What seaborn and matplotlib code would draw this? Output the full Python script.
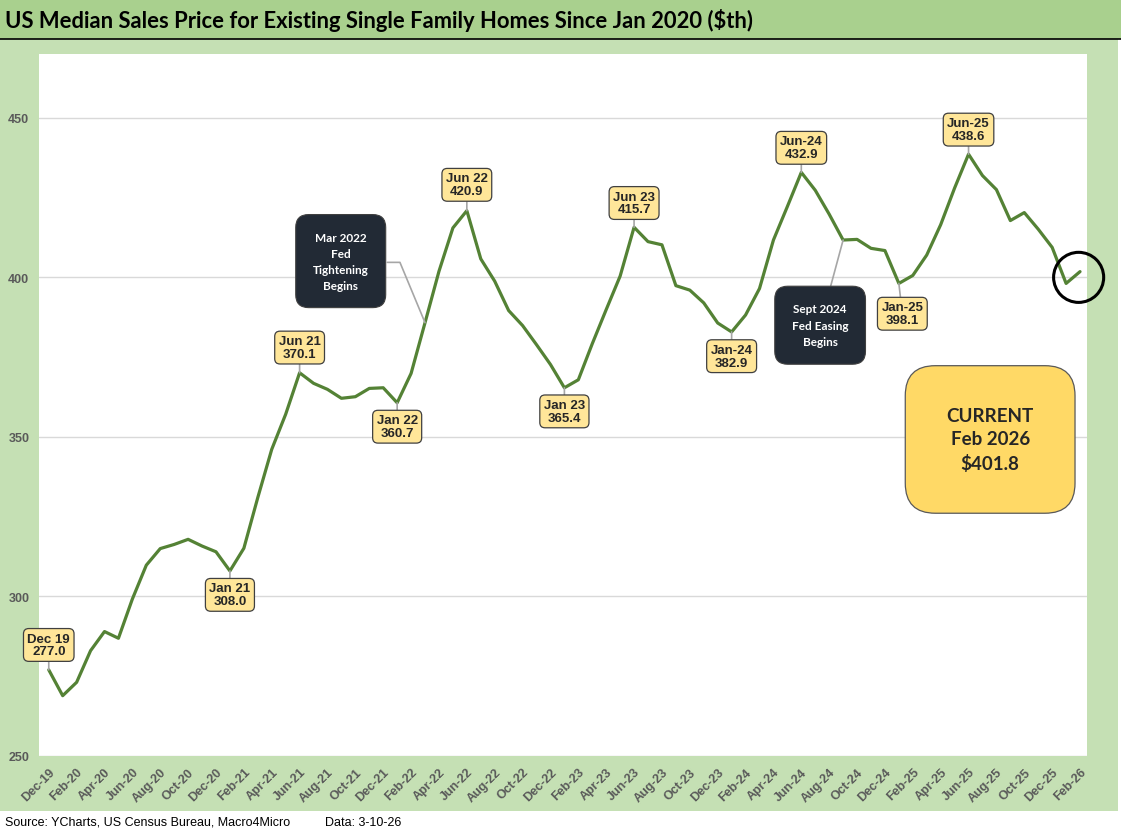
import pandas as pd
import seaborn as sns
import matplotlib.pyplot as plt
from matplotlib.patches import Rectangle

# monthly median price, $ thousands, Dec-19 .. Feb-26
prices = [277.0, 268.9, 273.1, 283.0, 289.0, 286.9, 299.2, 309.8, 315.0, 316.3, 317.9, 315.8, 314.0,
          308.0, 315.1, 331.0, 346.1, 357.1, 370.1, 366.8, 364.9, 362.1, 362.6, 365.2, 365.4,
          360.7, 369.9, 385.8, 401.9, 415.5, 420.9, 405.8, 398.8, 389.6, 384.9, 378.9, 372.7,
          365.4, 367.9, 379.2, 389.9, 400.4, 415.7, 411.2, 410.2, 397.4, 396.0, 392.0, 385.7,
          382.9, 388.2, 396.5, 411.7, 422.2, 432.9, 427.3, 419.8, 411.7, 411.9, 409.1, 408.4,
          398.1, 400.6, 407.0, 416.5, 428.0, 438.6, 431.9, 427.5, 417.8, 420.3, 415.1, 409.4,
          398.1, 401.8]
months = pd.date_range("2019-12-01", periods=len(prices), freq="MS").strftime("%b-%y").tolist()
idx = list(range(len(prices)))

yticks = [250, 300, 350, 400, 450]

# labelled points: (index, text, label y)
callouts = [(0, "Dec 19\n277.0", 284.8), (13, "Jan 21\n308.0", 300.5), (18, "Jun 21\n370.1", 378.0),
            (25, "Jan 22\n360.7", 353.2), (30, "Jun 22\n420.9", 429.0), (37, "Jan 23\n365.4", 358.0),
            (42, "Jun 23\n415.7", 423.3), (49, "Jan-24\n382.9", 375.3), (54, "Jun-24\n432.9", 440.6),
            (61, "Jan-25\n398.1", 388.6), (66, "Jun-25\n438.6", 446.3)]

W, H = 1121, 837
sns.set_style("white")
plt.rcParams['font.family'] = ['Liberation Sans', 'DejaVu Sans']

fig = plt.figure(figsize=(W / 100, H / 100), dpi=100)
fig.patch.set_facecolor("white")

# background bands
fig.patches.append(Rectangle((0, 1 - 40 / H), 1, 40 / H, transform=fig.transFigure,
                             facecolor="#A9D08E", edgecolor="none", zorder=-2))
fig.patches.append(Rectangle((0, 1 - 812 / H), 1118 / W, (812 - 40) / H, transform=fig.transFigure,
                             facecolor="#C5E0B4", edgecolor="none", zorder=-2))
fig.add_artist(plt.Line2D([0, 1], [1 - 39.5 / H, 1 - 39.5 / H], transform=fig.transFigure,
                          color="black", lw=1.2))

fig.text(5 / W, 1 - 21 / H, "US Median Sales Price for Existing Single Family Homes Since Jan 2020 ($th)",
         fontsize=15.8, fontweight="bold", family="Lato", va="center", ha="left", color="black")

ax = fig.add_axes([39 / W, 1 - 757 / H, (1087 - 39) / W, (757 - 55) / H])
ax.set_facecolor("white")

sns.lineplot(x=idx, y=prices, ax=ax, color="#548235", linewidth=2.3, zorder=3)

ax.set_xlim(-0.7, 74.5)
ax.set_ylim(250, 470)
ax.set_yticks(yticks)
ax.set_yticklabels([str(v) for v in yticks], color="#595959", fontsize=9, fontweight="bold")
ax.set_xticks(idx[::2])
ax.set_xticklabels(months[::2], rotation=45, ha="right", rotation_mode="anchor",
                   color="#595959", fontsize=9, fontweight="bold")
ax.tick_params(axis="both", length=0, pad=7)
ax.grid(axis="y", color="#D9D9D9", linewidth=1)
ax.set_axisbelow(True)
for s in ax.spines.values():
    s.set_visible(False)
ax.set_xlabel("")
ax.set_ylabel("")

box = dict(boxstyle="round,pad=0.3,rounding_size=0.4", fc="#FFE699", ec="#404040", lw=0.9)
for i, txt, ly in callouts:
    dx = 0.25 if i == 61 else 0
    ax.annotate(txt, xy=(i, prices[i]), xytext=(i + dx, ly), ha="center", va="center",
                fontsize=9.5, fontweight="bold", linespacing=1.1, bbox=box, zorder=5,
                arrowprops=dict(arrowstyle="-", color="#A6A6A6", lw=1.2, shrinkA=0, shrinkB=0))

dark = dict(boxstyle="round,pad=1.45,rounding_size=1.1", fc="#222A35", ec="#404040", lw=0.8)
ax.text(20.95, 405.1, "Mar 2022\nFed\nTightening\nBegins", ha="center", va="center",
        color="white", fontsize=8.5, fontweight="bold", family="Lato", linespacing=1.55,
        bbox=dark, zorder=6)
# leader with elbow from box to the Mar-22 point
ax.plot([24.3, 25.2, 27], [404.7, 404.7, prices[27]], color="#A6A6A6", lw=1.2, zorder=4)

ax.annotate("Sept 2024\nFed Easing\nBegins", xy=(57, prices[57]), xytext=(55.35, 385.0),
            ha="center", va="center", color="white", fontsize=8.5, fontweight="bold",
            family="Lato", linespacing=1.6, bbox=dict(dark, pad=1.35), zorder=6,
            arrowprops=dict(arrowstyle="-", color="#A6A6A6", lw=1.2, shrinkA=0, shrinkB=0))

ax.text(67.55, 349.2, "CURRENT\nFeb 2026\n$401.8", ha="center", va="center", fontsize=13.5,
        fontweight="bold", family="Lato", linespacing=1.45, zorder=6,
        bbox=dict(boxstyle="round,pad=2.2,rounding_size=1.6", fc="#FFD966", ec="#595959", lw=0.9))

ax.scatter([73.9], [400], s=1300, facecolors="none", edgecolors="black", linewidths=2.2,
           zorder=7, clip_on=False)

fig.text(5 / W, 1 - 823 / H, "Source: YCharts, US Census Bureau, Macro4Micro", fontsize=9,
         va="center", ha="left", color="black")
fig.text(325 / W, 1 - 823 / H, "Data: 3-10-26", fontsize=9, va="center", ha="left", color="black")

fig.savefig("out.png", dpi=100)
